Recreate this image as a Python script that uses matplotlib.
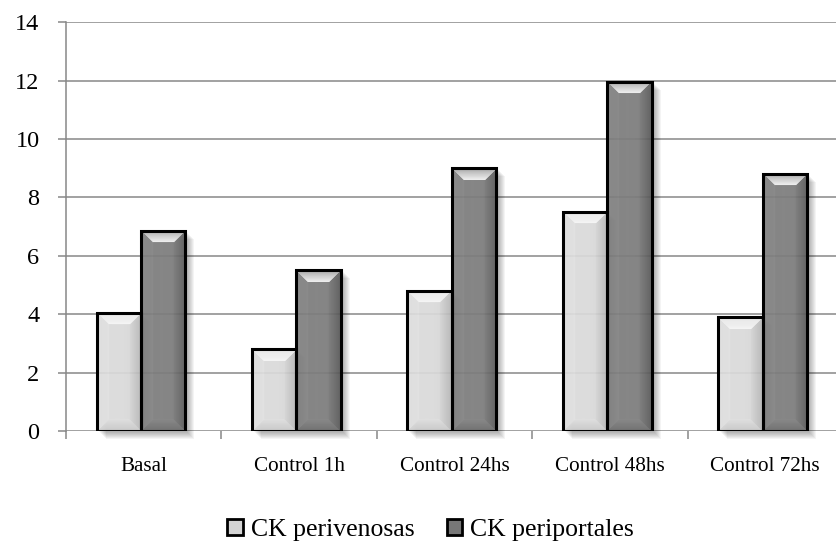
import numpy as np
import matplotlib.pyplot as plt
from matplotlib.patches import Rectangle

# Datos de citoqueratinas por grupo
categories = ["Basal", "Control 1h", "Control 24hs", "Control 48hs", "Control 72hs"]
perivenosas = [4.05, 2.8, 4.8, 7.5, 3.9]
periportales = [6.85, 5.5, 9.0, 11.95, 8.8]
series_names = ["CK perivenosas", "CK periportales"]
yticks = [0, 2, 4, 6, 8, 10, 12, 14]

plt.rcParams["font.family"] = ["Liberation Serif", "DejaVu Serif"]

fig = plt.figure(figsize=(8.36, 5.45), dpi=100)
ax = fig.add_axes([0.0789, 0.209, 0.9294, 0.7505])

n = len(categories)
ax.set_xlim(0, n)
ax.set_ylim(0, 14)

# pixels per data unit (for bevel and shadow sizes)
px_x = 0.9294 * 836 / n
px_y = 0.7505 * 545 / 14

grid_c = "#878787"
for y in yticks[1:]:
    ax.axhline(y, color=grid_c, lw=1.1, zorder=1)


def bevel_image(base, w_px, h_px, bev=12):
    u = np.arange(w_px) + 0.5
    v = np.arange(h_px) + 0.5
    U, V = np.meshgrid(u, v)
    d = np.stack([V, U, w_px - U, h_px - V])  # top, left, right, bottom
    side = d.argmin(axis=0)
    dmin = d.min(axis=0)
    t = np.clip(dmin / bev, 0, 1)
    # face: slight cylinder-like shading
    xr = (U / w_px - 0.45)
    img = base + 0.03 - 0.15 * xr ** 2
    inb = dmin < bev
    top = inb & (side == 0)
    left = inb & (side == 1)
    right = inb & (side == 2)
    bottom = inb & (side == 3)
    img[top] = (base + (1 - base) * (0.1 + 0.85 * t ** 0.7))[top]
    img[left] = (base + 0.05 * t)[left]
    img[right] = (base - 0.13 * (1 - t))[right]
    img[bottom] = (base - 0.10 * (1 - t) + 0.04)[bottom]
    img = np.clip(img, 0, 1)
    return np.dstack([img, img, img])


def draw_bar(x0, w, h, base):
    # soft shadow to the lower right
    for k in range(1, 9):
        ax.add_patch(Rectangle((x0 + (k + 1) / px_x, -k / px_y), w, h,
                               facecolor="black", edgecolor="none",
                               alpha=0.045, zorder=1.5, clip_on=False))
    w_px = max(int(round(w * px_x)), 4)
    h_px = max(int(round(h * px_y)), 4)
    ax.imshow(bevel_image(base, w_px, h_px), extent=[x0, x0 + w, 0, h],
              aspect="auto", interpolation="bilinear", zorder=2, alpha=0.9)
    ax.add_patch(Rectangle((x0, 0), w, h, facecolor="none",
                           edgecolor="black", lw=2.2, zorder=3))


width = 0.286
center = 0.483
for i in range(n):
    draw_bar(i + center - width, width, perivenosas[i], 0.86)
    draw_bar(i + center, width, periportales[i], 0.48)

ax.set_xlim(0, n)
ax.set_ylim(0, 14)

for s in ["top", "right", "bottom"]:
    ax.spines[s].set_visible(False)
ax.spines["left"].set_color(grid_c)
ax.spines["left"].set_linewidth(1.1)
ax.axhline(0, color=grid_c, lw=1.1, zorder=1)

ax.set_yticks(yticks)
ax.tick_params(axis="y", length=6, width=1.1, color=grid_c, pad=13,
               labelsize=17.5)

ax.set_xticks(range(n))
ax.set_xticklabels([])
ax.set_xticks(np.arange(n) + 0.5, minor=True)
ax.set_xticklabels(categories, minor=True)
ax.tick_params(axis="x", which="major", length=6, width=1.1, color=grid_c)
ax.tick_params(axis="x", which="minor", length=0, pad=19, labelsize=15.2)

handles = [Rectangle((0, 0), 1, 1, facecolor="#d4d4d4", edgecolor="black", lw=2),
           Rectangle((0, 0), 1, 1, facecolor="#777777", edgecolor="black", lw=2)]
fig.legend(handles, series_names, loc="center", bbox_to_anchor=(0.515, 0.0275),
           ncol=2, frameon=False, fontsize=18.5, handlelength=0.62,
           handleheight=0.62, handletextpad=0.3, columnspacing=1.25)

fig.savefig("out.png", dpi=100)
